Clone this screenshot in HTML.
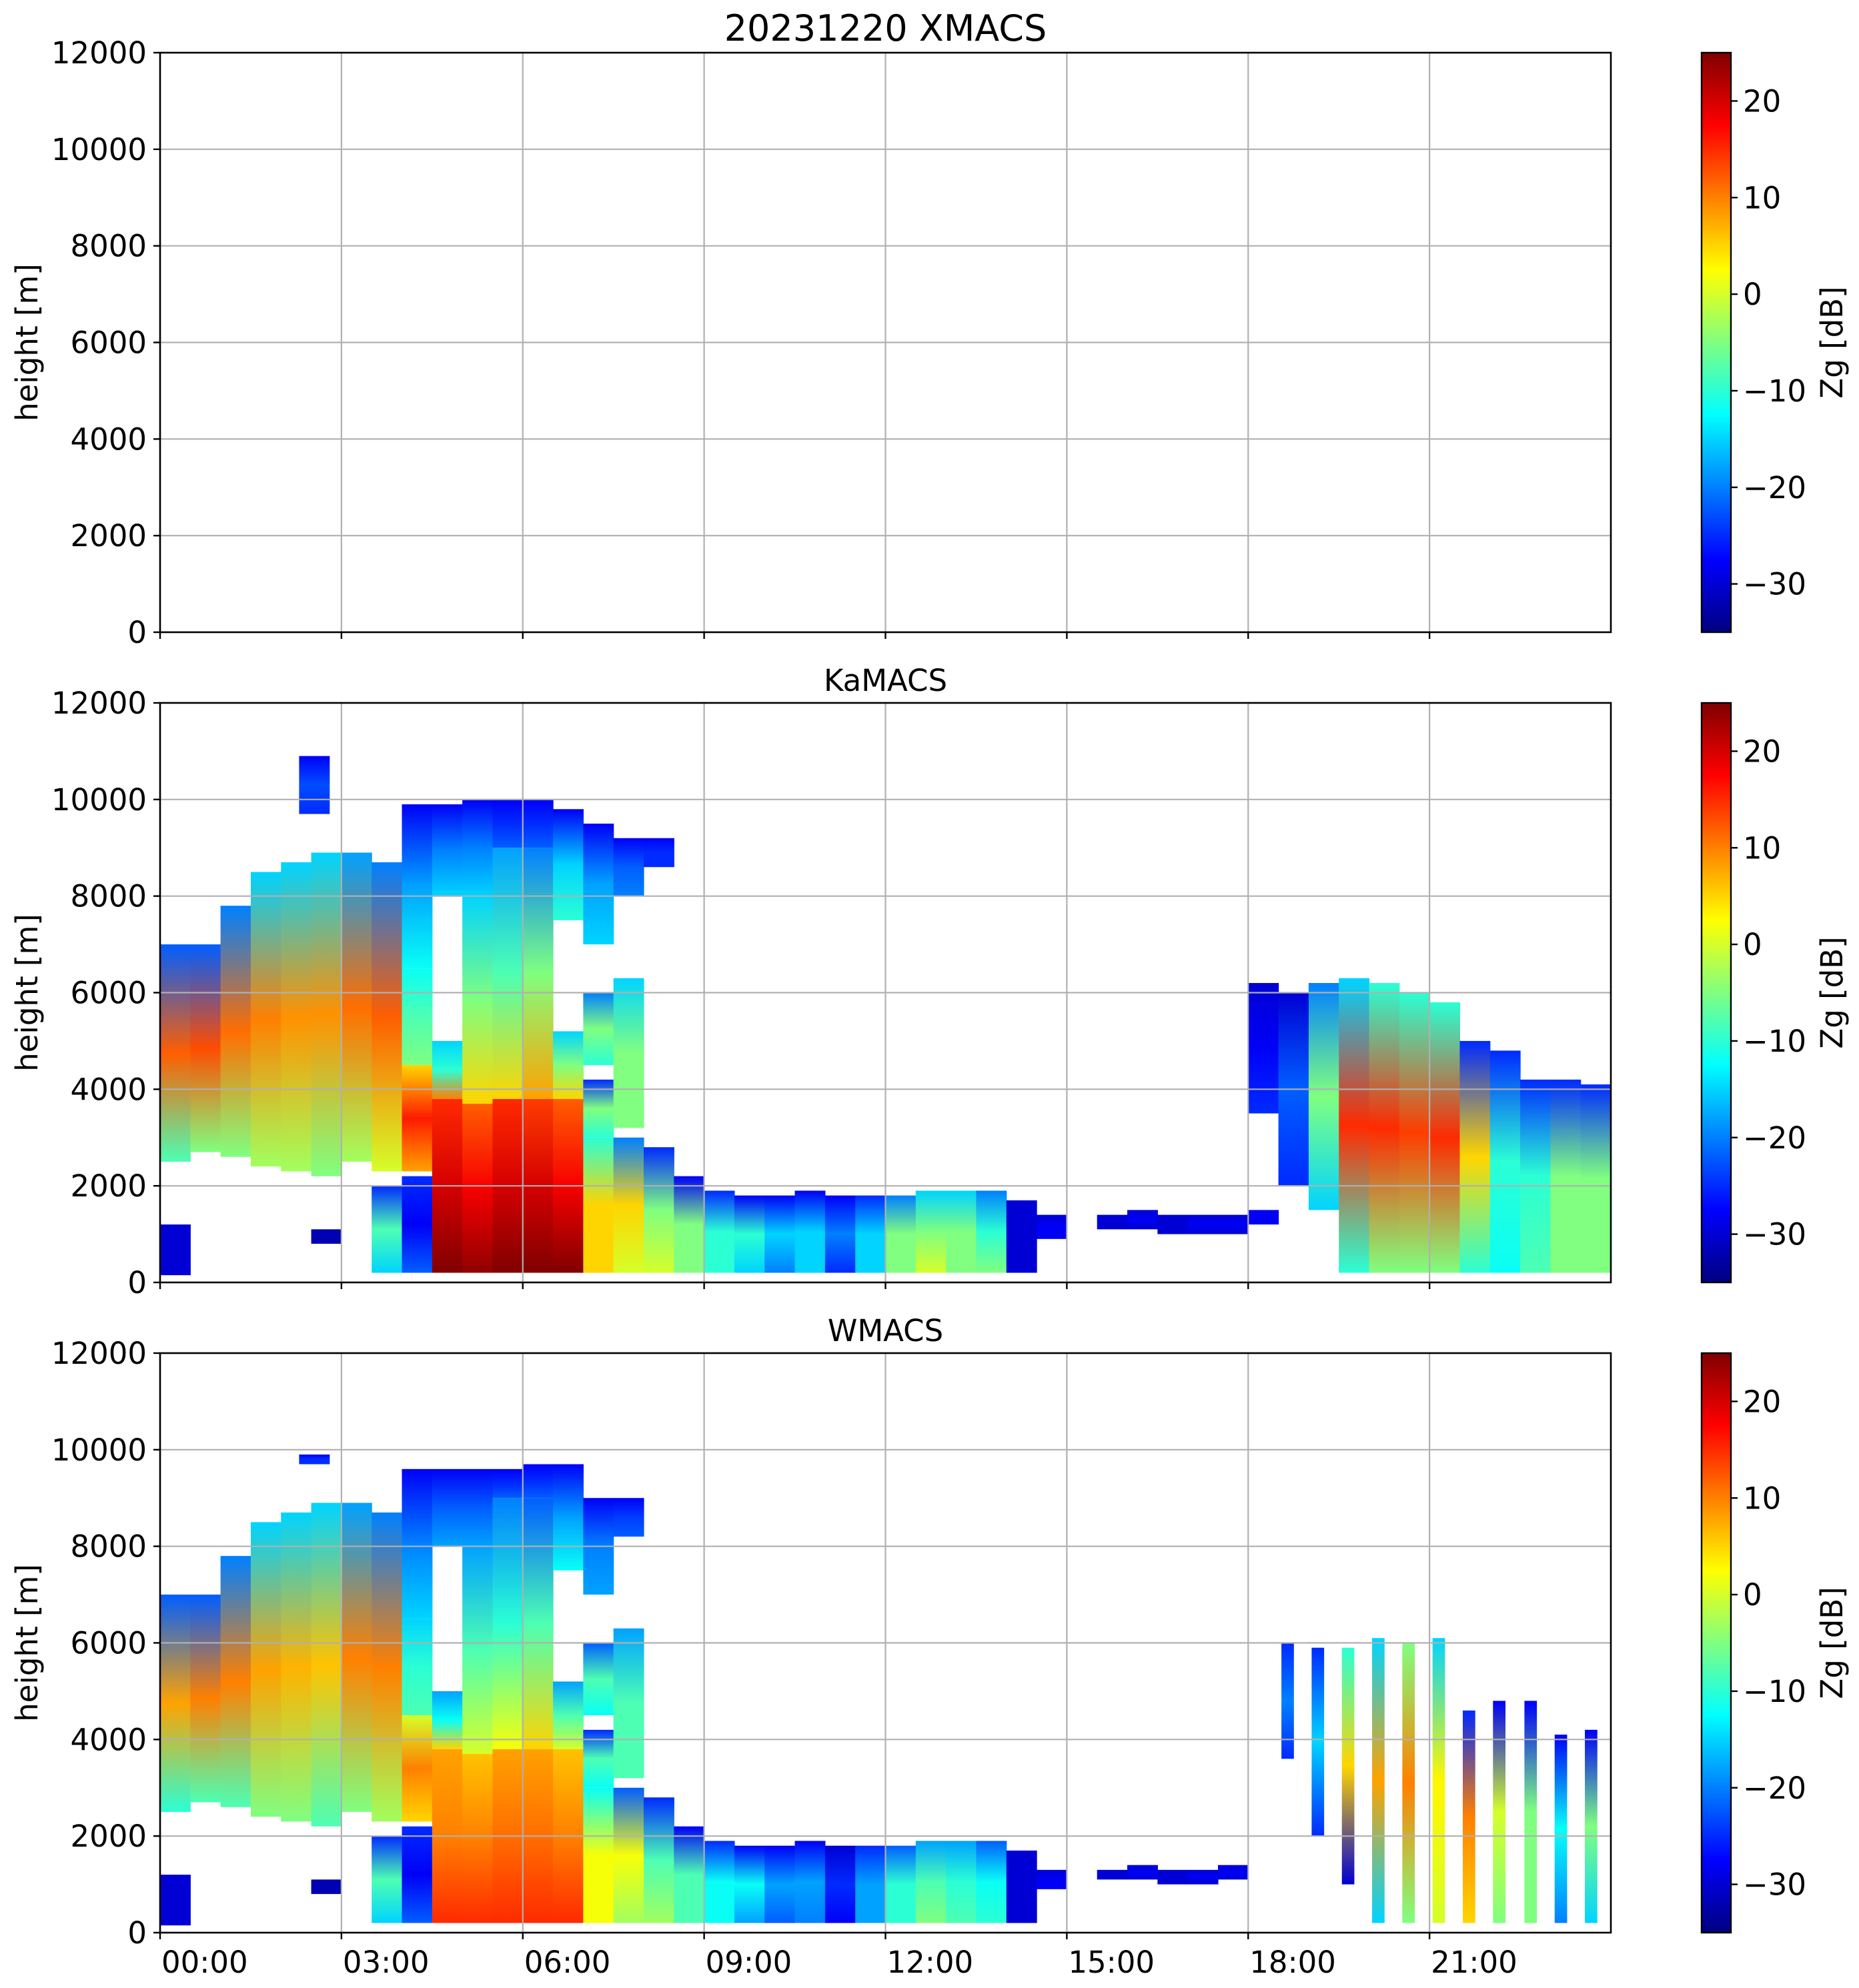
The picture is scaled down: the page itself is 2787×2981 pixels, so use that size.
<!DOCTYPE html>
<html>
<head>
<meta charset="utf-8">
<style>
html,body{margin:0;padding:0;background:#fff;}
svg{display:block;}
text{font-family:"DejaVu Sans","Liberation Sans",sans-serif;fill:#000;}
</style>
</head>
<body>
<svg id="fig" width="2787" height="2981" viewBox="0 0 2787 2981" xmlns="http://www.w3.org/2000/svg">
<defs id="defs"></defs>
<rect x="0" y="0" width="2787" height="2981" fill="#fff"/>
</svg>
<script>
// ---- chart data ----
const timeTicks = [0,3,6,9,12,15,18,21];
const timeTickLabels = ["00:00","03:00","06:00","09:00","12:00","15:00","18:00","21:00"];
const heightTicks = [0,2000,4000,6000,8000,10000,12000];
const cbarTicks = [-30,-20,-10,0,10,20];
const panelTitles = ["20231220 XMACS","KaMACS","WMACS"];
// segments: [startHour, baseM, topM, zBase, zMid, zTop]  (column width 0.5 h)
const kaSegs = [
 [0.0,2500,7000,-8,12,-22],[0.0,150,1200,-30,-30,-30],
 [0.5,2700,7000,-5,13,-22],
 [1.0,2600,7800,-5,11,-20],
 [1.5,2400,8500,-3,10,-15],
 [2.0,2300,8700,-3,9,-15],[2.3,9700,10900,-25,-23,-28],
 [2.5,2200,8900,-5,9,-15],[2.5,800,1100,-32,-32,-32],
 [3.0,2500,8900,-3,11,-18],
 [3.5,200,2000,-15,-8,-25],[3.5,2300,8700,0,12,-20],
 [4.0,200,2200,-22,-28,-25],[4.0,2300,4500,8,16,5],[4.0,4500,6500,-5,-8,-12],[4.0,6500,9900,-12,-18,-28],
 [4.5,200,3800,25,20,15],[4.5,3800,5000,10,-10,-15],[4.5,8000,9900,-15,-20,-28],
 [5.0,200,3700,24,18,12],[5.0,3700,8000,5,-5,-15],[5.0,8000,10000,-15,-20,-28],
 [5.5,200,3800,25,20,15],[5.5,3800,9000,5,-8,-18],[5.5,9000,10000,-22,-25,-28],
 [6.0,200,3800,25,20,14],[6.0,3800,9000,8,-5,-20],[6.0,9000,10000,-22,-25,-28],
 [6.5,200,3800,25,18,12],[6.5,3800,5200,5,-5,-15],[6.5,7500,9800,-10,-15,-28],
 [7.0,200,3000,5,5,-10],[7.0,3000,4200,-10,-5,-25],[7.0,4500,6000,-10,-5,-20],[7.0,7000,9500,-15,-18,-28],
 [7.5,200,3000,0,5,-20],[7.5,3200,6300,-5,-5,-15],[7.5,8000,9200,-20,-22,-28],
 [8.0,200,2800,0,-5,-25],[8.0,8600,9200,-25,-25,-28],
 [8.5,200,2200,-5,-5,-28],
 [9.0,200,1900,-10,-10,-25],
 [9.5,200,1800,-15,-10,-28],
 [10.0,200,1800,-20,-15,-28],
 [10.5,200,1900,-15,-15,-28],
 [11.0,200,1800,-25,-20,-28],
 [11.5,200,1800,-15,-15,-25],
 [12.0,200,1800,-5,-5,-20],
 [12.5,200,1900,0,-5,-15],
 [13.0,200,1900,-5,-5,-15],
 [13.5,200,1900,-5,-10,-20],
 [14.0,200,1700,-30,-30,-30],
 [14.5,900,1400,-28,-28,-30],
 [15.5,1100,1400,-30,-30,-30],
 [16.0,1100,1500,-30,-28,-30],
 [16.5,1000,1400,-30,-30,-30],
 [17.0,1000,1400,-30,-28,-30],
 [17.5,1000,1400,-30,-28,-30],
 [18.0,3500,6200,-25,-28,-30],[18.0,1200,1500,-28,-28,-28],
 [18.5,2000,6000,-25,-22,-30],
 [19.0,1500,6200,-15,-5,-20],
 [19.5,200,6300,-10,15,-15],
 [20.0,200,6200,-5,15,-10],
 [20.5,200,6000,-5,14,-10],
 [21.0,200,5800,-5,15,-10],
 [21.5,200,5000,-10,5,-25],
 [22.0,200,4800,-12,-10,-25],
 [22.5,200,4200,-8,-10,-25],
 [23.0,200,4200,-5,-5,-25],
 [23.5,200,4100,-5,-5,-25]
];
const wSegs = [
 [0.0,2500,7000,-10,8,-22],[0.0,150,1200,-30,-30,-30],
 [0.5,2700,7000,-8,10,-22],
 [1.0,2600,7800,-8,10,-20],
 [1.5,2400,8500,-5,8,-15],
 [2.0,2300,8700,-5,7,-15],[2.3,9700,9900,-25,-25,-28],
 [2.5,2200,8900,-8,6,-15],[2.5,800,1100,-32,-32,-32],
 [3.0,2500,8900,-5,10,-18],
 [3.5,200,2000,-15,-8,-25],[3.5,2300,8700,-3,10,-20],
 [4.0,200,2200,-22,-28,-25],[4.0,2300,4500,5,10,0],[4.0,4500,6500,-8,-10,-15],[4.0,6500,9600,-15,-20,-28],
 [4.5,200,3800,15,10,8],[4.5,3800,5000,5,-12,-18],[4.5,8000,9600,-18,-22,-28],
 [5.0,200,3700,15,10,6],[5.0,3700,8000,0,-8,-18],[5.0,8000,9600,-18,-22,-28],
 [5.5,200,3800,15,11,8],[5.5,3800,9000,2,-10,-20],[5.5,9000,9600,-22,-25,-28],
 [6.0,200,3800,15,11,8],[6.0,3800,9000,5,-8,-22],[6.0,9000,9700,-22,-25,-28],
 [6.5,200,3800,15,10,6],[6.5,3800,5200,0,-8,-18],[6.5,7500,9700,-12,-18,-28],
 [7.0,200,3000,2,2,-12],[7.0,3000,4200,-12,-8,-25],[7.0,4500,6000,-12,-8,-22],[7.0,7000,9000,-18,-20,-28],
 [7.5,200,3000,-3,2,-22],[7.5,3200,6300,-8,-8,-18],[7.5,8200,9000,-22,-24,-28],
 [8.0,200,2800,-3,-8,-25],
 [8.5,200,2200,-8,-8,-28],
 [9.0,200,1900,-12,-12,-25],
 [9.5,200,1800,-18,-12,-28],
 [10.0,200,1800,-22,-18,-28],
 [10.5,200,1900,-20,-18,-28],
 [11.0,200,1800,-28,-25,-30],
 [11.5,200,1800,-18,-18,-25],
 [12.0,200,1800,-10,-10,-22],
 [12.5,200,1900,-5,-8,-18],
 [13.0,200,1900,-8,-10,-18],
 [13.5,200,1900,-10,-12,-22],
 [14.0,200,1700,-30,-30,-30],
 [14.5,900,1300,-28,-28,-30],
 [15.5,1100,1300,-30,-30,-30],
 [16.0,1100,1400,-30,-28,-30],
 [16.5,1000,1300,-30,-30,-30],
 [17.0,1000,1300,-30,-28,-30],
 [17.5,1100,1400,-30,-28,-30]
];
// W-band late-day narrow profiles: [startHour, baseM, topM, zBase, zMid, zTop]
const wStripes = [
 [18.55,3600,6000,-25,-20,-25],
 [19.05,2000,5900,-25,-15,-25],
 [19.55,1000,5900,-30,5,-10],
 [20.05,200,6100,-15,8,-15],
 [20.55,200,6000,-5,10,-5],
 [21.05,200,6100,0,3,-15],
 [21.55,200,4600,5,10,-25],
 [22.05,200,4800,-5,0,-28],
 [22.57,200,4800,-5,-5,-28],
 [23.07,200,4100,-20,-12,-28],
 [23.57,200,4200,-15,-5,-28]
];
// ---- layout ----
const NS="http://www.w3.org/2000/svg";
const svg=document.getElementById('fig');
const defs=document.getElementById('defs');
const AX_L=240, AX_R=2415, AX_H=869;
const panelTops=[79,1054,2029];
const CB_L=2551, CB_R=2595;
const ZMIN=-35, ZMAX=25;
function xs(h){return AX_L+(AX_R-AX_L)*h/24;}
function ys(top,m){return top+AX_H*(12000-m)/12000;}
function jet(z){
  let v=(z-ZMIN)/(ZMAX-ZMIN); v=Math.max(0,Math.min(1,v));
  const f=(x)=>Math.max(0,Math.min(1,x));
  const r=f(Math.min(4*v-1.5,-4*v+4.5));
  const g=f(Math.min(4*v-0.5,-4*v+3.5));
  const b=f(Math.min(4*v+0.5,-4*v+2.5));
  return `rgb(${Math.round(r*255)},${Math.round(g*255)},${Math.round(b*255)})`;
}
function el(tag,attrs,parent){
  const e=document.createElementNS(NS,tag);
  for(const k in attrs)e.setAttribute(k,attrs[k]);
  (parent||svg).appendChild(e);return e;
}
let gid=0;
function gradient(zb,zm,zt){
  const id='g'+(gid++);
  const g=el('linearGradient',{id:id,x1:0,y1:1,x2:0,y2:0},defs);
  el('stop',{offset:'0','stop-color':jet(zb)},g);
  el('stop',{offset:'0.5','stop-color':jet(zm)},g);
  el('stop',{offset:'1','stop-color':jet(zt)},g);
  return id;
}
function drawSegs(segs,top,width,group,name){
  segs.forEach(s=>{
    const id=gradient(s[3],s[4],s[5]);
    const x0=xs(s[0]), x1=xs(Math.min(24,s[0]+width));
    const y0=ys(top,s[2]), y1=ys(top,s[1]);
    const r=el('rect',{x:x0,y:y0,width:x1-x0+0.6,height:y1-y0,fill:`url(#${id})`},group);
    
    
  });
}
panelTops.forEach((top,i)=>{
  const g=el('g',{});
  
  
  const clip=el('clipPath',{id:'clip'+i},defs);
  el('rect',{x:AX_L,y:top,width:AX_R-AX_L,height:AX_H},clip);
  const dg=el('g',{'clip-path':`url(#clip${i})`},g);
  
  
  if(i===1) drawSegs(kaSegs,top,0.5,dg,'ka-profile');
  if(i===2){ drawSegs(wSegs,top,0.5,dg,'w-profile'); drawSegs(wStripes,top,0.2,dg,'w-profile-stripe'); }
  // grid
  timeTicks.forEach(t=>{ if(t>0) el('line',{x1:xs(t),x2:xs(t),y1:top,y2:top+AX_H,stroke:'#b0b0b0','stroke-width':2.2},g); });
  heightTicks.forEach(m=>{ if(m>0&&m<12000) el('line',{x1:AX_L,x2:AX_R,y1:ys(top,m),y2:ys(top,m),stroke:'#b0b0b0','stroke-width':2.2},g); });
  const fr=el('rect',{x:AX_L,y:top,width:AX_R-AX_L,height:AX_H,fill:'none',stroke:'#000','stroke-width':2.6},g);
  
  
  // y ticks
  heightTicks.forEach(m=>{
    const y=ys(top,m);
    el('line',{x1:AX_L-10,x2:AX_L,y1:y,y2:y,stroke:'#000','stroke-width':2.4},g);
    const t=el('text',{x:AX_L-20,y:y+16,'font-size':45,'text-anchor':'end'},g);
    t.textContent=m;
    
    
  });
  // x ticks
  timeTicks.forEach((tt,k)=>{
    const x=xs(tt);
    el('line',{x1:x,x2:x,y1:top+AX_H,y2:top+AX_H+10,stroke:'#000','stroke-width':2.4},g);
    if(i===2){
      const t=el('text',{x:x+2,y:top+AX_H+60,'font-size':45,'text-anchor':'start'},g);
      t.textContent=timeTickLabels[k];
      
      
    }
  });
  // y label
  const yl=el('text',{x:0,y:0,'font-size':45,'text-anchor':'middle',transform:`translate(56,${top+AX_H/2}) rotate(-90)`},g);
  yl.textContent='height [m]';
  
  
  // title
  const ti=el('text',{x:(AX_L+AX_R)/2,y:top-18,'font-size':i===0?54:45,'text-anchor':'middle'},g);
  ti.textContent=panelTitles[i];
  
  
  // colorbar
  const cg=el('g',{},g);
  
  
  const cid='cb'+i;
  const lg=el('linearGradient',{id:cid,x1:0,y1:1,x2:0,y2:0},defs);
  for(let k=0;k<=24;k++){ const z=ZMIN+(ZMAX-ZMIN)*k/24; el('stop',{offset:k/24,'stop-color':jet(z)},lg); }
  el('rect',{x:CB_L,y:top,width:CB_R-CB_L,height:AX_H,fill:`url(#${cid})`,stroke:'#000','stroke-width':2.4},cg);
  cbarTicks.forEach(z=>{
    const y=top+AX_H*(ZMAX-z)/(ZMAX-ZMIN);
    el('line',{x1:CB_R,x2:CB_R+10,y1:y,y2:y,stroke:'#000','stroke-width':2.4},cg);
    const t=el('text',{x:CB_R+18,y:y+16,'font-size':45},cg);
    t.textContent=z<0?('\u2212'+Math.abs(z)):String(z);
    
    
  });
  const cl=el('text',{x:0,y:0,'font-size':45,'text-anchor':'middle',transform:`translate(2762,${top+AX_H/2}) rotate(-90)`},cg);
  cl.textContent='Zg [dB]';
  
  
});
</script>
</body>
</html>
